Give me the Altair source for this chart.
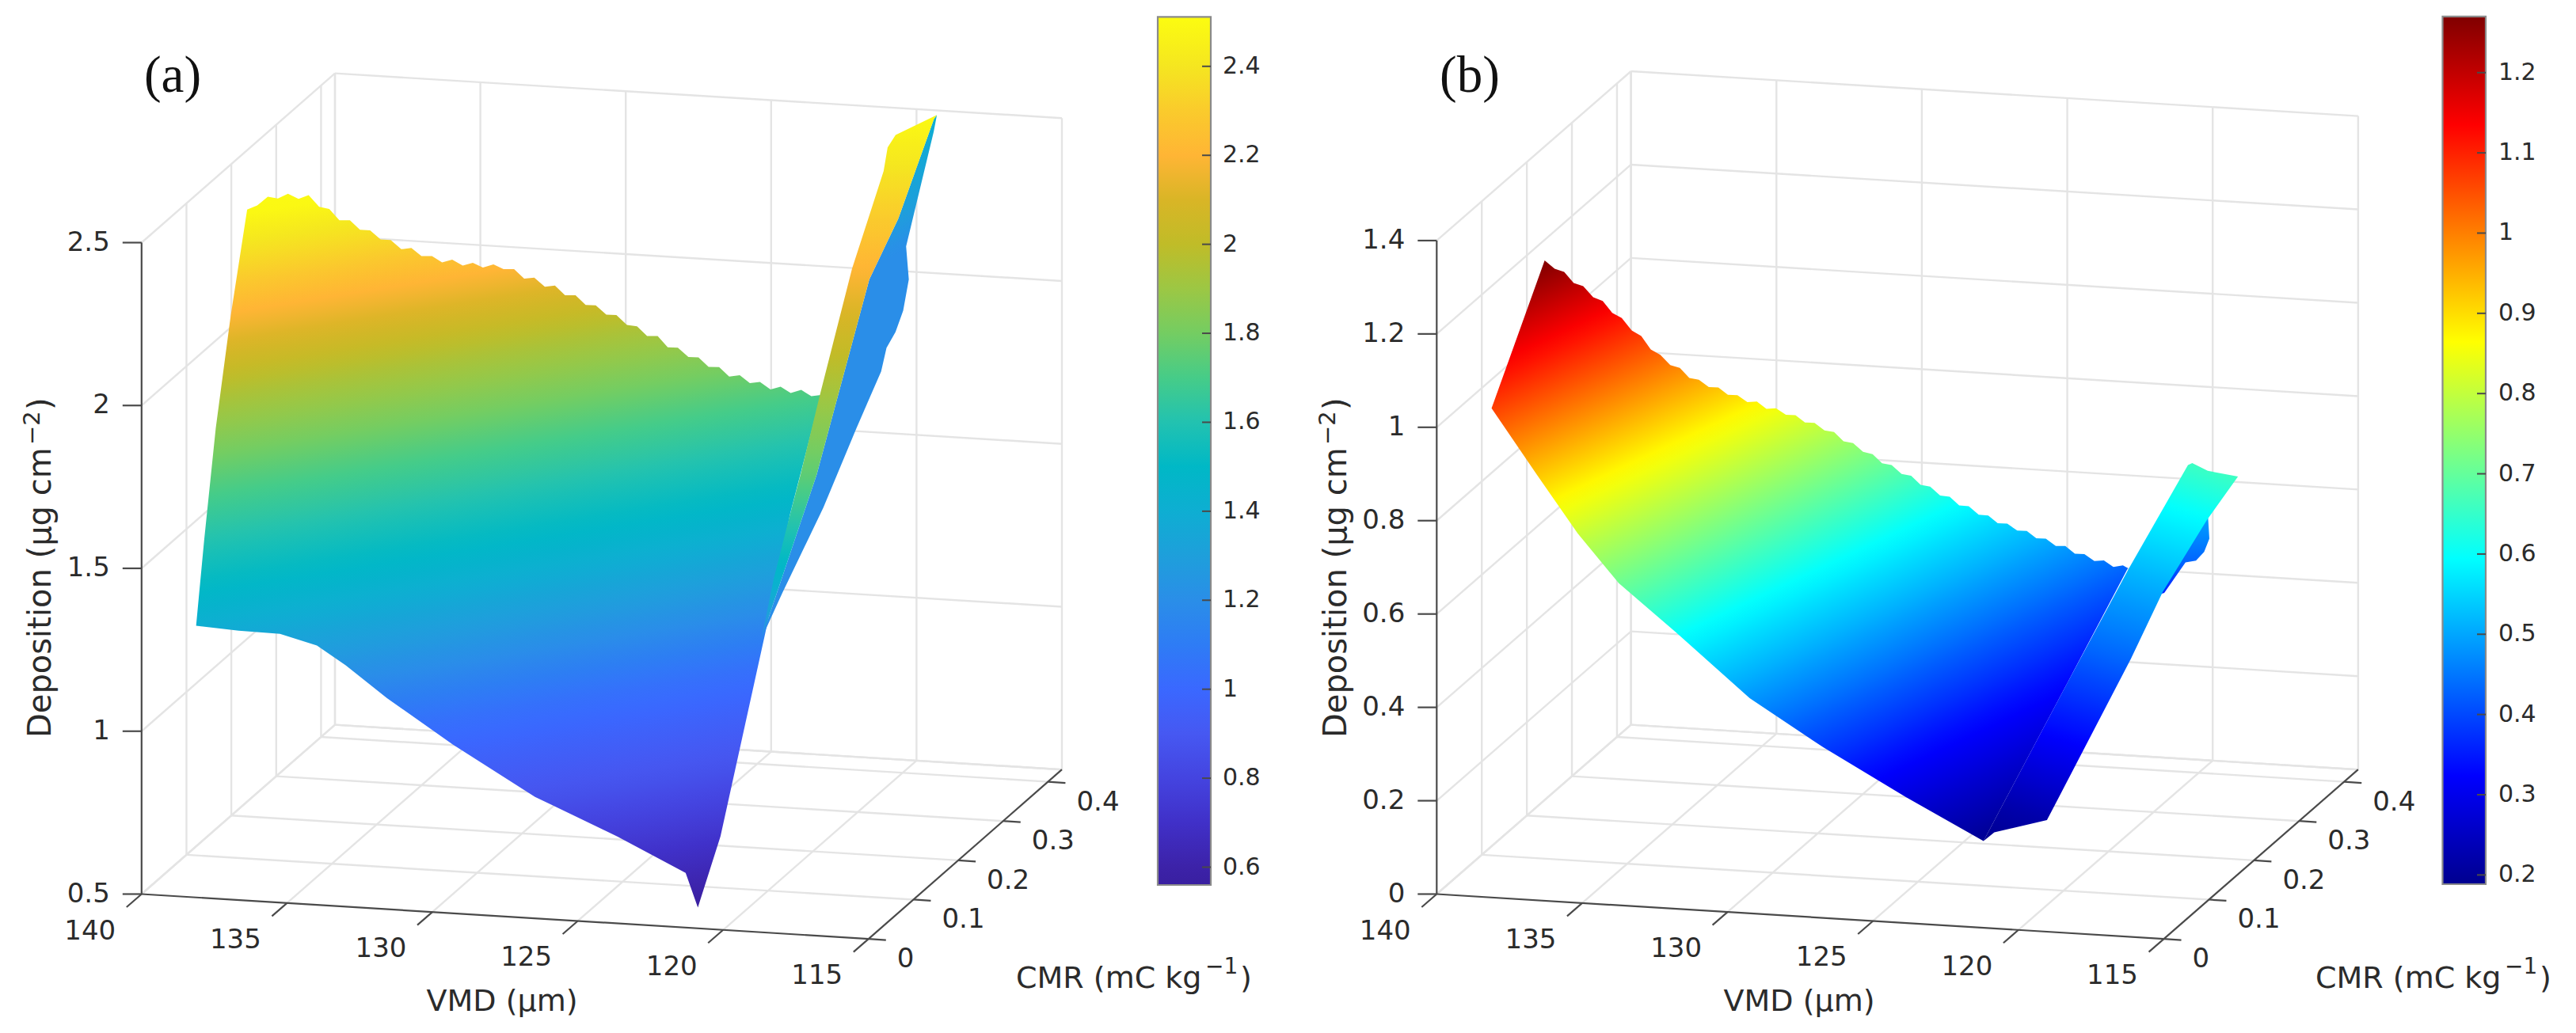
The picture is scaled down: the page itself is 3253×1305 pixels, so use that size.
import altair as alt
import numpy as np
import pandas as pd

# ---------- axis ticks ----------
vmd_ticks = [140, 135, 130, 125, 120, 115]
cmr_ticks = [0, 0.1, 0.2, 0.3, 0.4]
cmr_labels = ["0", "0.1", "0.2", "0.3", "0.4"]
cmr_max = 0.431
dep_ticks_a = [0.5, 1, 1.5, 2, 2.5]
dep_labels_a = ["0.5", "1", "1.5", "2", "2.5"]
dep_ticks_b = [0, 0.2, 0.4, 0.6, 0.8, 1, 1.2, 1.4]
dep_labels_b = ["0", "0.2", "0.4", "0.6", "0.8", "1", "1.2", "1.4"]
bar_ticks_a = [0.6, 0.8, 1, 1.2, 1.4, 1.6, 1.8, 2, 2.2, 2.4]
bar_labels_a = ["0.6", "0.8", "1", "1.2", "1.4", "1.6", "1.8", "2", "2.2", "2.4"]
bar_ticks_b = [0.2, 0.3, 0.4, 0.5, 0.6, 0.7, 0.8, 0.9, 1, 1.1, 1.2]
bar_labels_b = ["0.2", "0.3", "0.4", "0.5", "0.6", "0.7", "0.8", "0.9", "1", "1.1", "1.2"]

# ---------- colour scales ----------
cmap_a_val = [0.56, 0.6, 0.7, 0.8, 0.9, 1.0, 1.1, 1.2, 1.3, 1.4, 1.5, 1.6, 1.7, 1.8, 1.9, 2.0, 2.1, 2.2, 2.3, 2.4, 2.511]
cmap_a_col = ["#391FA0", "#3C22A8", "#4030C8", "#4444E0", "#4658F2", "#3A68FF", "#2E7CF5", "#2A8EE8", "#1E9FDB", "#0EAED2",
              "#00B8C6", "#22C2B0", "#46CC88", "#74CD62", "#9CC744", "#C0BC28", "#D9B526", "#FFB535", "#FACB2C", "#F5E620", "#FCFC10"]
cmap_b_val = [0.1885, 0.3237, 0.5941, 0.8644, 1.1348, 1.27]
cmap_b_col = ["#00008F", "#0000FF", "#00FFFF", "#FFFF00", "#FF0000", "#800000"]

# ---------- surface (a): sheet outline ----------
a_sheet_vmd = [137.82,137.55,137.28,137.01,136.74,136.47,136.20,135.93,135.66,135.39,135.12,134.85,134.58,134.31,134.04,133.77,133.50,133.23,132.96,132.69,132.42,132.15,131.88,131.61,131.34,131.07,130.80,130.53,130.26,129.99,129.72,129.45,129.18,128.91,128.64,128.37,128.10,127.83,127.56,127.29,127.02,126.75,126.48,126.21,125.94,125.67,125.40,125.13,124.86,124.59,124.32,124.05,123.78,123.51,123.24,122.97,122.72,
               122.17,120.86,120.48,120.40,120.87,
               121.29,123.64,126.47,129.3,131.56,132.98,133.97,135.24,136.66,138.125,
               138.155,138.22,138.095]
a_sheet_cmr = [.094,.099,.105,.110,.115,.121,.126,.132,.137,.142,.148,.153,.158,.164,.169,.175,.180,.185,.191,.196,.201,.207,.212,.217,.223,.228,.234,.239,.244,.250,.255,.260,.266,.271,.276,.282,.287,.293,.298,.303,.309,.314,.319,.325,.330,.335,.341,.346,.352,.357,.362,.368,.373,.378,.384,.389,.394,
               .29,.15,.08,.02,0,
               0,0,0,0,0,0,0,0,0,0,
               .02,.05,.075]
a_sheet_dep = [2.50,2.508,2.529,2.519,2.529,2.508,2.515,2.473,2.462,2.423,2.417,2.383,2.377,2.343,2.337,2.303,2.302,2.273,2.267,2.243,2.247,2.223,2.227,2.208,2.212,2.193,2.187,2.153,2.152,2.118,2.117,2.083,2.077,2.043,2.037,2.003,1.997,1.961,1.952,1.918,1.912,1.873,1.867,1.833,1.827,1.793,1.787,1.753,1.752,1.723,1.722,1.693,1.697,1.673,1.677,1.653,1.652,
               1.416,1.228,1.031,.761,.564,
               .668,.767,.873,1.018,1.148,1.241,1.296,1.325,1.327,1.334,
               1.574,1.88,2.194]
a_sheet_iso_level = [286, 413, 513, 638, 771, 888, 963, 1088, 1261]
a_sheet_iso_dep = [2.5, 2.2, 1.95, 1.7, 1.47, 1.22, 1.05, 0.87, 0.56]

# surface (a): front strip of the ribbon
a_strip_vmd = [120.38,120.58,120.78,120.73,120.82,120.66,120.6,120.5,120.67,120.55,119.13,119.2,120.15,120.22,120.64]
a_strip_cmr = [.11,.15,.2,.22,.27,.33,.37,.39,.41,.42,.42,.418,.40,.34,.25]
a_strip_dep = [1.259,1.392,1.532,1.63,1.819,2.128,2.267,2.356,2.404,2.431,2.5,2.49,2.2,2.086,1.593]
a_strip_iso_level = [145, 340, 497, 600, 733, 808]
a_strip_iso_dep = [2.5, 2.2, 1.92, 1.75, 1.45, 1.2]

# surface (a): rear part of the ribbon
a_rear_vmd = [119.13,119.24,119.88,120.25,120.29,120.4,120.4,120.43,120.68,120.72,120.59,120.38,120.64,120.22,120.15,119.2]
a_rear_cmr = [.42,.42,.40,.43,.42,.41,.39,.38,.34,.27,.17,.11,.25,.34,.40,.418]
a_rear_dep = [2.5,2.448,2.117,1.977,1.893,1.839,1.814,1.754,1.623,1.467,1.326,1.259,1.593,2.086,2.2,2.49]
a_rear_iso_level = [262, 349, 394, 444, 487, 529, 595, 627, 749, 794]
a_rear_iso_dep = [2.45, 2.22, 2.07, 1.95, 1.78, 1.6, 1.5, 1.42, 1.3, 1.2]

# ---------- surface (b): sheet outline ----------
b_sheet_vmd = [138.04,137.79,137.54,137.29,137.04,136.79,136.54,136.29,136.04,135.79,135.54,135.29,135.04,134.79,134.54,134.29,134.04,133.79,133.54,133.29,133.04,132.79,132.54,132.29,132.04,131.79,131.54,131.29,131.04,130.79,130.54,130.29,130.04,129.79,129.54,129.29,129.04,128.79,128.54,128.29,128.04,127.79,127.54,127.29,127.04,126.79,126.54,126.29,126.04,125.79,125.54,125.29,125.04,124.79,124.54,124.29,124.04,123.79,123.54,123.29,123.04,122.9,
               121.63,120.97,
               121.2,123.88,126.7,129.24,131.77,133.74,135.15,136.56,138.114]
b_sheet_cmr = [.113,.119,.124,.129,.134,.140,.145,.150,.155,.161,.166,.171,.176,.182,.187,.192,.197,.203,.208,.213,.218,.224,.229,.234,.239,.245,.250,.255,.260,.266,.271,.276,.281,.287,.292,.297,.302,.308,.313,.318,.323,.329,.334,.339,.344,.350,.355,.360,.365,.371,.376,.381,.386,.392,.397,.402,.407,.413,.418,.423,.428,.430,
               .22,.05,
               0,0,0,0,0,0,0,0,0]
b_sheet_dep = [1.270,1.248,1.238,1.211,1.201,1.173,1.162,1.133,1.119,1.088,1.073,1.041,1.026,1.000,.991,.966,.959,.939,.935,.916,.912,.893,.891,.872,.870,.852,.848,.829,.825,.805,.798,.775,.768,.745,.737,.714,.707,.684,.677,.654,.647,.624,.618,.596,.591,.569,.564,.544,.540,.521,.517,.498,.494,.474,.471,.451,.447,.428,.426,.409,.409,.402,
               .349,.263,
               .186,.27,.365,.461,.592,.690,.791,.912,1.048]
b_sheet_iso_level = [393, 698, 952, 1389]
b_sheet_iso_dep = [1.27, 0.875, 0.59, 0.19]

# surface (b): ribbon
b_rib_vmd = [121.2,120.97,121.63,121.02,120.37,120.27,119.69,118.65,118.7,118.7,119.0,119.5,121.0]
b_rib_cmr = [0,.05,.22,.31,.40,.403,.40,.40,.333,.236,.185,.031,.011]
b_rib_dep = [.186,.263,.349,.508,.658,.66,.648,.640,.601,.530,.429,.211,.196]
b_rib_iso_level = [318, 387, 497, 579, 695, 820, 869]
b_rib_iso_dep = [.66, .59, .50, .44, .34, .22, .19]

# surface (b): rounded part behind the ribbon
b_blob_vmd = [119.53,119.48,119.66,119.94,120.3,121.03,121.93]
b_blob_cmr = [.39,.39,.39,.39,.39,.39,.39]
b_blob_dep = [.564,.512,.483,.463,.458,.390,.368]
b_blob_iso_level = [650, 710, 750, 760]
b_blob_iso_dep = [.50, .43, .36, .34]

# ---------- geometry of the two orthographic views ----------
PAGE_W, PAGE_H = 3237, 1285
VIEW_A = dict(ox=178.8, oy=1129.5, dx=36.72, dy=2.264, cx=566.6, cy=-496.3, zy=-411.5, z0=0.5, ztop=2.5)
VIEW_B = dict(ox=1814.3, oy=1129.5, dx=36.73, dy=2.264, cx=569.2, cy=-496.3, zy=-589.7, z0=0.0, ztop=1.4)


def project(view, vmd, cmr, dep):
    d = 140 - np.asarray(vmd, dtype=float)
    c = np.asarray(cmr, dtype=float)
    z = np.asarray(dep, dtype=float) - view["z0"]
    return view["ox"] + view["dx"] * d + view["cx"] * c, view["oy"] + view["dy"] * d + view["cy"] * c + view["zy"] * z


X_SCALE = alt.Scale(domain=[8, 8 + PAGE_W], nice=False, zero=False)
Y_SCALE = alt.Scale(domain=[8 + PAGE_H, 8], nice=False, zero=False)


def hexcol(rgb):
    return "#%02x%02x%02x" % tuple(int(round(v)) for v in rgb)


def ramp(vals, cols, v):
    rgb = np.array([[int(c[i:i + 2], 16) for i in (1, 3, 5)] for c in cols], dtype=float)
    return hexcol([np.interp(v, vals, rgb[:, k]) for k in range(3)])


def enc(**extra):
    return dict(x=alt.X("px:Q", scale=X_SCALE, axis=None), y=alt.Y("py:Q", scale=Y_SCALE, axis=None), **extra)


def surface(view, vmd, cmr, dep, tilt, iso_level, iso_dep, cmap_val, cmap_col):
    """Filled outline whose colour follows Deposition across the face."""
    X, Y = project(view, vmd, cmr, dep)
    xmin, xmax, ymin, ymax = X.min(), X.max(), Y.min(), Y.max()
    W, H = xmax - xmin, ymax - ymin
    corners = [(xmin, ymin), (xmin, ymax), (xmax, ymin), (xmax, ymax)]
    lev = [yy + tilt * (xx - view["ox"]) for xx, yy in corners]
    s0, s1 = min(lev), max(lev)
    sc = (ymin + ymax) / 2 + tilt * ((xmin + xmax) / 2 - view["ox"])
    p, q = tilt * W, H
    n = p * p + q * q
    t0, t1 = (s0 - sc) / n, (s1 - sc) / n
    stops = []
    for s in np.linspace(s0, s1, 60):
        v = np.interp(s, iso_level, iso_dep)
        stops.append(alt.GradientStop(offset=float((s - s0) / (s1 - s0)), color=ramp(cmap_val, cmap_col, v)))
    grad = alt.LinearGradient(gradient="linear", stops=stops,
                              x1=float(0.5 + t0 * p), y1=float(0.5 + t0 * q),
                              x2=float(0.5 + t1 * p), y2=float(0.5 + t1 * q))
    df = pd.DataFrame({"px": X, "py": Y, "i": np.arange(len(X))})
    return alt.Chart(df).mark_line(interpolate="linear-closed", filled=True, fill=grad, strokeWidth=0).encode(
        **enc(order=alt.Order("i:Q")))


def segments(rows, color, width):
    df = pd.DataFrame(rows, columns=["px", "py", "px2", "py2"])
    return alt.Chart(df).mark_rule(color=color, strokeWidth=width).encode(
        **enc(x2=alt.X2("px2:Q"), y2=alt.Y2("py2:Q")))


def seg3d(view, a, b, off=(0, 0)):
    x1, y1 = project(view, *a)
    x2, y2 = project(view, *b)
    return [float(x1), float(y1), float(x2) + off[0], float(y2) + off[1]]


def texts(rows, size, font="DejaVu Sans", align="center", baseline="middle", angle=0, color="#2b2b2b"):
    df = pd.DataFrame(rows, columns=["px", "py", "label"])
    return alt.Chart(df).mark_text(font=font, fontSize=size, align=align, baseline=baseline, angle=angle, color=color).encode(
        **enc(text="label:N"))


def walls(view, dep_ticks):
    z0, zt = view["z0"], view["ztop"]
    rows = []
    for z in dep_ticks:
        rows.append(seg3d(view, (140, 0, z), (140, cmr_max, z)))
        rows.append(seg3d(view, (140, cmr_max, z), (115, cmr_max, z)))
    for c in cmr_ticks[1:] + [cmr_max]:
        rows.append(seg3d(view, (140, c, z0), (140, c, zt)))
        rows.append(seg3d(view, (140, c, z0), (115, c, z0)))
    for v in vmd_ticks:
        rows.append(seg3d(view, (v, cmr_max, z0), (v, cmr_max, zt)))
        if v != 115:
            rows.append(seg3d(view, (v, 0, z0), (v, cmr_max, z0)))
    return segments(rows, "#e4e4e4", 2.4)


def axes(view, dep_ticks, dep_labels):
    z0, zt = view["z0"], view["ztop"]
    rows = [seg3d(view, (140, 0, z0), (140, 0, zt)),
            seg3d(view, (140, 0, z0), (115, 0, z0)),
            seg3d(view, (115, 0, z0), (115, cmr_max, z0))]
    for z in dep_ticks:
        x, y = project(view, 140, 0, z)
        rows.append([float(x), float(y), float(x) - 24, float(y)])
    for v in vmd_ticks:
        x, y = project(view, v, 0, z0)
        rows.append([float(x), float(y), float(x) - 19, float(y) + 16.5])
    for c in cmr_ticks:
        x, y = project(view, 115, c, z0)
        rows.append([float(x), float(y), float(x) + 22, float(y) + 1.5])
    out = [segments(rows, "#4a4a4a", 2.2)]
    lab = []
    for z, t in zip(dep_ticks, dep_labels):
        x, y = project(view, 140, 0, z)
        lab.append([float(x) - 40, float(y), t])
    out.append(texts(lab, 34, align="right"))
    lab = []
    for v in vmd_ticks:
        x, y = project(view, v, 0, z0)
        lab.append([float(x) - 65, float(y) + 47, str(v)])
    out.append(texts(lab, 34))
    lab = []
    for c, t in zip(cmr_ticks, cmr_labels):
        x, y = project(view, 115, c, z0)
        lab.append([float(x) + 36, float(y) + 26, t])
    out.append(texts(lab, 34, align="left"))
    return out


def colorbar(x0, x1, ytop, ybot, vals, cols, ticks, labels, lab_x):
    lo, hi = vals[0], vals[-1]
    stops = [alt.GradientStop(offset=float((v - lo) / (hi - lo)), color=c) for v, c in zip(vals, cols)]
    grad = alt.LinearGradient(gradient="linear", stops=stops, x1=0, y1=1, x2=0, y2=0)
    df = pd.DataFrame({"px": [x0], "px2": [x1], "py": [ytop], "py2": [ybot]})
    bar = alt.Chart(df).mark_rect(fill=grad, stroke="#8a8a8a", strokeWidth=2.2).encode(
        **enc(x2=alt.X2("px2:Q"), y2=alt.Y2("py2:Q")))
    to_y = lambda v: ytop + (hi - v) / (hi - lo) * (ybot - ytop)
    tk = segments([[x1 - 11, to_y(v), x1, to_y(v)] for v in ticks], "#4a4a4a", 2)
    tx = texts([[lab_x, to_y(v), t] for v, t in zip(ticks, labels)], 30, align="left")
    return [bar, tk, tx]


layers = []
# panel (a)
layers.append(walls(VIEW_A, dep_ticks_a))
layers.append(surface(VIEW_A, a_rear_vmd, a_rear_cmr, a_rear_dep, 0.5, a_rear_iso_level, a_rear_iso_dep, cmap_a_val, cmap_a_col))
layers.append(surface(VIEW_A, a_sheet_vmd, a_sheet_cmr, a_sheet_dep, 0.16, a_sheet_iso_level, a_sheet_iso_dep, cmap_a_val, cmap_a_col))
layers.append(surface(VIEW_A, a_strip_vmd, a_strip_cmr, a_strip_dep, 0.0, a_strip_iso_level, a_strip_iso_dep, cmap_a_val, cmap_a_col))
layers += axes(VIEW_A, dep_ticks_a, dep_labels_a)
layers += colorbar(1462, 1529, 21.4, 1118, cmap_a_val, cmap_a_col, bar_ticks_a, bar_labels_a, 1544)
# panel (b)
layers.append(walls(VIEW_B, dep_ticks_b))
layers.append(surface(VIEW_B, b_blob_vmd, b_blob_cmr, b_blob_dep, 0.0, b_blob_iso_level, b_blob_iso_dep, cmap_b_val, cmap_b_col))
layers.append(surface(VIEW_B, b_sheet_vmd, b_sheet_cmr, b_sheet_dep, 0.47, b_sheet_iso_level, b_sheet_iso_dep, cmap_b_val, cmap_b_col))
layers.append(surface(VIEW_B, b_rib_vmd, b_rib_cmr, b_rib_dep, -0.28, b_rib_iso_level, b_rib_iso_dep, cmap_b_val, cmap_b_col))
layers += axes(VIEW_B, dep_ticks_b, dep_labels_b)
layers += colorbar(3084.5, 3139, 20.8, 1117, cmap_b_val, cmap_b_col, bar_ticks_b, bar_labels_b, 3155)

# titles and panel letters
layers.append(texts([[218, 96, "(a)"], [1856, 96, "(b)"]], 65, font="Liberation Serif", color="#111111"))
layers.append(texts([[634, 1277, "VMD (\u03bcm)"], [2272, 1277, "VMD (\u03bcm)"]], 38, baseline="alphabetic"))
layers.append(texts([[1283, 1248, "CMR (mC kg"], [1283 + 283, 1248, ")"], [2924, 1248, "CMR (mC kg"], [2924 + 283, 1248, ")"]], 38,
                    align="left", baseline="alphabetic"))
layers.append(texts([[1283 + 239, 1230, "\u22121"], [2924 + 239, 1230, "\u22121"]], 28, align="left", baseline="alphabetic"))
layers.append(texts([[64, 932, "Deposition (\u03bcg cm"], [64, 518, ")"], [1700, 932, "Deposition (\u03bcg cm"], [1700, 518, ")"]], 40,
                    align="left", baseline="alphabetic", angle=270))
layers.append(texts([[50, 562, "\u22122"], [1686, 562, "\u22122"]], 29, align="left", baseline="alphabetic", angle=270))

chart = alt.layer(*layers).properties(
    width=PAGE_W, height=PAGE_H, padding=0, autosize=alt.AutoSizeParams(type="none"), background="white"
).configure_view(strokeWidth=0)

chart.save("out.html", embed_options={"renderer": "svg", "actions": False})
